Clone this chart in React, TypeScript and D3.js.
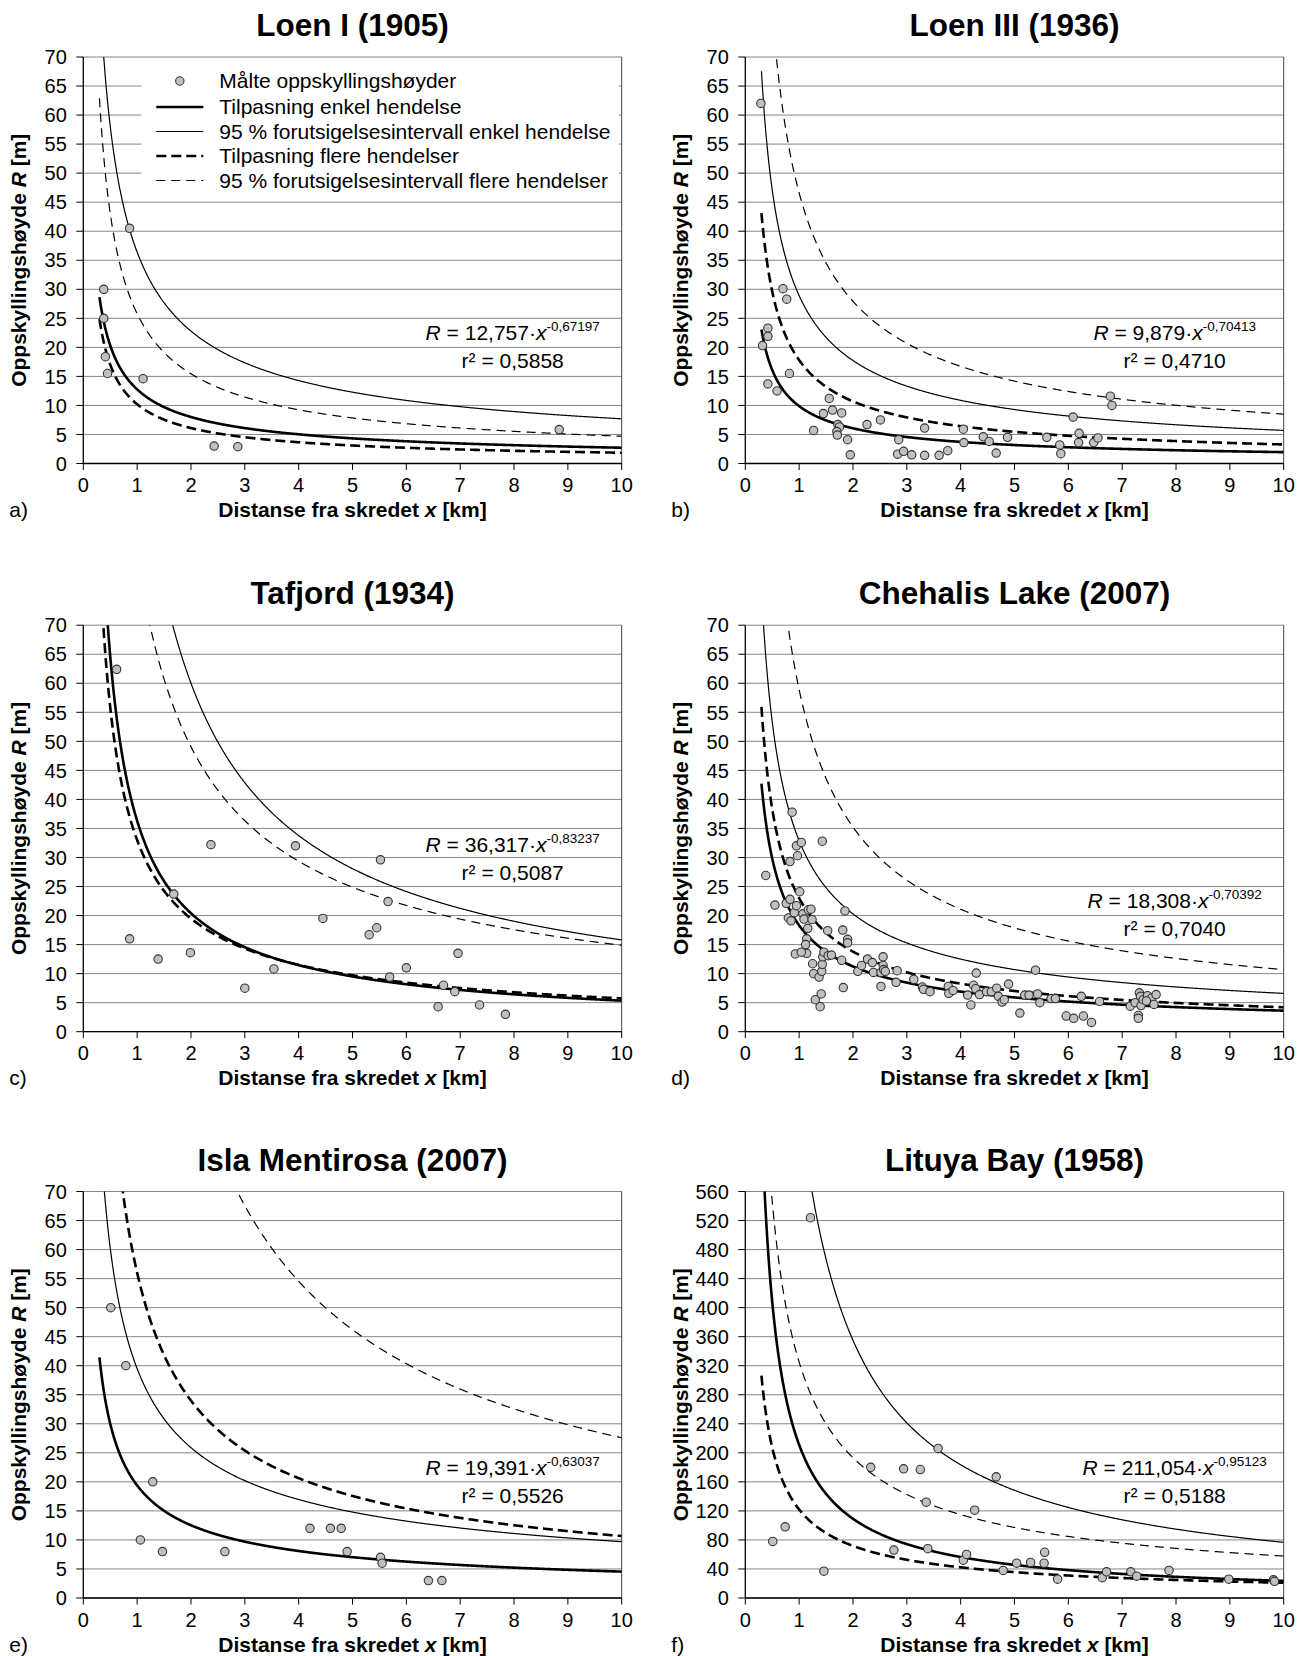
import * as React from "react";
import * as d3 from "d3";

// panel texts
const titles = ["Loen I (1905)", "Loen III (1936)", "Tafjord (1934)", "Chehalis Lake (2007)", "Isla Mentirosa (2007)", "Lituya Bay (1958)"];
const tags = ["a)", "b)", "c)", "d)", "e)", "f)"];
const yMaxes = [70, 70, 70, 70, 70, 560];
const ySteps = [5, 5, 5, 5, 5, 40];
const xTickValues = [0, 1, 2, 3, 4, 5, 6, 7, 8, 9, 10];

// fitted equation shown in each panel (R = a·x^-b)
const coefText = ["12,757", "9,879", "36,317", "18,308", "19,391", "211,054"];
const expText = ["0,67197", "0,70413", "0,83237", "0,70392", "0,63037", "0,95123"];
const r2Text = ["0,5858", "0,4710", "0,5087", "0,7040", "0,5526", "0,5188"];
const fitA = [12.757, 9.879, 36.317, 18.308, 19.391, 211.054];
const fitB = [0.67197, 0.70413, 0.83237, 0.70392, 0.63037, 0.95123];

// other curves, coefficients
const piSingleA = [36.4, 28.9, 106.6, 32.9, 39.5, 686.8];
const piSingleB = [0.675, 0.705, 0.829, 0.698, 0.61, 0.952];
const multiA = [10.2, 17.8, 33, 23.0, 56, 122];
const multiB = [0.74, 0.735, 0.76, 0.738, 0.72, 0.765];
const piMultiA = [25.8, 46.6, 82, 58.9, 152.9, 325];
const piMultiB = [0.74, 0.739, 0.741, 0.741, 0.7436, 0.75];

// measured run-up heights
const loenIX = [0.86, 0.38, 0.38, 0.41, 0.45, 1.11, 2.43, 2.87, 8.84];
const loenIR = [40.5, 30.0, 25.0, 18.4, 15.5, 14.6, 3.0, 2.9, 5.85];

const loenIIIX = [0.29, 0.70, 0.77, 0.42, 0.42, 0.32, 0.82, 0.42, 0.59, 1.56, 1.45, 1.62, 1.79, 1.27, 1.72, 1.75, 1.70, 1.71, 1.90, 1.95,
  2.26, 2.51, 2.85, 2.83, 2.94, 3.09, 3.33, 3.33, 3.60, 3.76, 4.05, 4.06, 4.42, 4.53, 4.66, 4.87, 5.60, 5.84, 5.86, 6.09,
  6.20, 6.19, 6.47, 6.55, 6.78, 6.81];
const loenIIIR = [62.0, 30.1, 28.3, 23.3, 21.9, 20.3, 15.5, 13.7, 12.5, 11.2, 8.6, 9.2, 8.7, 5.7, 6.7, 6.3, 5.5, 4.9, 4.1, 1.5,
  6.7, 7.5, 4.1, 1.6, 2.1, 1.5, 6.1, 1.4, 1.4, 2.2, 5.9, 3.6, 4.6, 3.8, 1.8, 4.5, 4.5, 3.2, 1.7, 8.0,
  5.2, 3.6, 3.6, 4.4, 11.6, 10.0];

const tafjordX = [0.62, 0.86, 1.39, 1.68, 1.99, 2.37, 3.00, 3.54, 3.94, 4.45, 5.31, 5.45, 5.52, 5.66, 5.69, 6.00, 6.59, 6.69, 6.90, 6.96, 7.36, 7.84];
const tafjordR = [62.4, 16.0, 12.5, 23.7, 13.6, 32.2, 7.5, 10.8, 32.0, 19.5, 16.7, 17.9, 29.6, 22.4, 9.4, 11.0, 4.3, 8.0, 6.9, 13.5, 4.6, 3.0];

const chehalisX = [0.38, 0.55, 0.87, 0.83, 0.76, 0.83, 0.80, 0.85, 0.91, 0.95, 0.97, 1.04, 1.01, 0.95, 1.07, 1.09, 1.17, 1.22, 1.24, 1.16,
  1.14, 1.12, 1.14, 0.93, 1.04, 1.25, 1.27, 1.37, 1.42, 1.43, 1.44, 1.46, 1.30, 1.41, 1.39, 1.43, 1.53, 1.54, 1.60, 1.79,
  1.81, 1.85, 1.90, 1.90, 1.82, 2.09, 2.16, 2.27, 2.36, 2.38, 2.52, 2.56, 2.56, 2.57, 2.60, 2.52, 2.82, 2.80, 3.13, 3.29,
  3.31, 3.43, 3.77, 3.78, 3.86, 4.13, 4.19, 4.24, 4.29, 4.28, 4.35, 4.48, 4.57, 4.67, 4.70, 4.77, 4.81, 4.89, 5.10, 5.19,
  5.27, 5.39, 5.43, 5.47, 5.68, 5.76, 5.96, 6.10, 6.24, 6.28, 6.43, 6.58, 7.15, 7.24, 7.30, 7.30, 7.32, 7.34, 7.35, 7.39,
  7.47, 7.55, 7.59, 7.63, 7.45];
const chehalisR = [26.9, 21.8, 37.8, 29.3, 22.1, 22.8, 19.6, 19.1, 20.5, 32.0, 30.3, 32.6, 24.1, 21.7, 20.3, 19.4, 21.0, 21.1, 19.3, 17.8,
  16.0, 15.0, 13.5, 13.4, 13.7, 11.7, 10.0, 9.4, 10.4, 11.6, 12.9, 13.7, 5.5, 6.5, 4.3, 32.8, 17.4, 13.1, 13.2, 12.3,
  17.5, 20.8, 15.9, 15.3, 7.6, 10.4, 11.4, 12.5, 11.9, 10.2, 10.2, 12.9, 11.4, 10.7, 10.4, 7.8, 10.5, 8.5, 9.0, 7.7,
  7.3, 6.9, 7.8, 6.6, 7.1, 6.3, 4.6, 8.0, 10.1, 7.4, 6.4, 6.9, 6.9, 7.5, 6.1, 5.1, 5.5, 8.2, 3.2, 6.3,
  6.3, 10.6, 6.5, 5.0, 5.7, 5.7, 2.7, 2.3, 6.1, 2.7, 1.6, 5.2, 4.4, 5.0, 2.8, 2.3, 6.7, 6.1, 4.5, 5.5,
  6.2, 5.8, 4.7, 6.4, 5.3];

const islaX = [0.51, 0.79, 1.06, 1.29, 1.47, 2.63, 4.21, 4.59, 4.79, 4.90, 5.52, 5.55, 6.41, 6.66];
const islaR = [50, 40, 10, 20, 8, 8, 12, 12, 12, 8, 7, 6, 3, 3];

const lituyaX = [1.21, 0.51, 0.74, 1.46, 2.33, 2.76, 2.94, 3.25, 3.36, 3.39, 3.58, 4.05, 4.11, 4.26, 4.66, 4.79, 5.04, 5.30, 5.55, 5.56,
  5.80, 6.63, 6.71, 7.16, 7.27, 7.87, 8.98, 9.81, 9.83];
const lituyaR = [524, 78, 98, 37, 180, 66, 178, 177, 132, 68, 206, 52, 60, 121, 167, 38, 48, 49, 48, 63,
  26, 28, 36, 36, 30, 38, 26, 25, 23];

const legendLabels = [
  "Målte oppskyllingshøyder",
  "Tilpasning enkel hendelse",
  "95 % forutsigelsesintervall enkel hendelse",
  "Tilpasning flere hendelser",
  "95 % forutsigelsesintervall flere hendelser",
];

const pointsX = [loenIX, loenIIIX, tafjordX, chehalisX, islaX, lituyaX];
const pointsR = [loenIR, loenIIIR, tafjordR, chehalisR, islaR, lituyaR];

const font = "'Liberation Sans', Arial, Helvetica, sans-serif";
const plotW = 538.4;
const plotH = 406.5;
const colLeft = [83.3, 745.3];
const rowTop = [57, 625.2, 1191.5];

const styles = {
  thick: 2.6,
  thin: 1.2,
  thickDash: "10,5",
  thinDash: "9,6",
};

const Panel = ({ i }) => {
  const left = colLeft[i % 2];
  const top = rowTop[Math.floor(i / 2)];
  const right = left + plotW;
  const bottom = top + plotH;

  const x = d3.scaleLinear().domain([0, 10]).range([left, right]);
  const y = d3.scaleLinear().domain([0, yMaxes[i]]).range([bottom, top]);
  const yTicks = d3.range(0, yMaxes[i] + 0.001, ySteps[i]);

  const xs = d3.range(0.3, 10.0001, 0.01);
  const line = d3.line().x(d => x(d[0])).y(d => y(d[1]));
  const curve = (a, b) => line(xs.map(v => [v, a * Math.pow(v, -b)]));

  const curves = [
    { d: curve(piMultiA[i], piMultiB[i]), w: styles.thin, dash: styles.thinDash },
    { d: curve(multiA[i], multiB[i]), w: styles.thick, dash: styles.thickDash },
    { d: curve(piSingleA[i], piSingleB[i]), w: styles.thin, dash: null },
    { d: curve(fitA[i], fitB[i]), w: styles.thick, dash: null },
  ];

  const clipId = "clip" + i;
  const eqX = right - 109;
  const eqY = i === 2 ? top + 227 : top + 283;

  return (
    <g>
      <defs>
        <clipPath id={clipId}>
          <rect x={left} y={top} width={plotW} height={plotH} />
        </clipPath>
      </defs>

      {yTicks.map(t => (
        <line key={"g" + t} x1={left} x2={right} y1={y(t)} y2={y(t)} stroke="#858585" strokeWidth={1} />
      ))}
      <line x1={right} x2={right} y1={top} y2={bottom} stroke="#444" strokeWidth={1} />

      {i === 0 && (
        <rect x={left + 58} y={top + 8} width={plotW - 61} height={130} fill="#fff" />
      )}

      <g clipPath={`url(#${clipId})`}>
        {curves.map((c, k) => (
          <path key={"c" + k} d={c.d} fill="none" stroke="#000" strokeWidth={c.w}
            strokeDasharray={c.dash || undefined} />
        ))}
      </g>

      {pointsX[i].map((v, k) => (
        <circle key={"p" + k} cx={x(v)} cy={y(pointsR[i][k])} r={4.2} fill="#c0c0c0" stroke="#333" strokeWidth={1.1} />
      ))}

      {/* axes */}
      <line x1={left} x2={left} y1={top} y2={bottom} stroke="#000" strokeWidth={1.3} />
      <line x1={left} x2={right} y1={bottom} y2={bottom} stroke="#000" strokeWidth={1.3} />
      {yTicks.map(t => (
        <g key={"yt" + t}>
          <line x1={left - 7} x2={left} y1={y(t)} y2={y(t)} stroke="#000" strokeWidth={1} />
          <text x={left - 16.5} y={y(t) + 7.2} textAnchor="end" fontSize={20} fontFamily={font}>{t}</text>
        </g>
      ))}
      {xTickValues.map(t => (
        <g key={"xt" + t}>
          <line x1={x(t)} x2={x(t)} y1={bottom} y2={bottom + 6.5} stroke="#000" strokeWidth={1} />
          <text x={x(t)} y={bottom + 28.5} textAnchor="middle" fontSize={20} fontFamily={font}>{t}</text>
        </g>
      ))}

      <text x={(left + right) / 2} y={top - 21} textAnchor="middle" fontSize={31.5} fontWeight="bold" fontFamily={font}>
        {titles[i]}
      </text>
      <text x={(left + right) / 2} y={bottom + 53.5} textAnchor="middle" fontSize={21} fontWeight="bold" fontFamily={font}>
        Distanse fra skredet <tspan fontStyle="italic">x</tspan> [km]
      </text>
      <text transform={`translate(${left - 57.8},${(top + bottom) / 2}) rotate(-90)`} textAnchor="middle"
        fontSize={21} fontWeight="bold" fontFamily={font}>
        Oppskyllingshøyde <tspan fontStyle="italic">R</tspan> [m]
      </text>
      <text x={left - 74} y={bottom + 53.5} fontSize={21} fontFamily={font}>{tags[i]}</text>

      <text x={eqX} y={eqY} textAnchor="middle" fontSize={21} fontFamily={font}>
        <tspan fontStyle="italic">R</tspan> = {coefText[i]}·<tspan fontStyle="italic">x</tspan>
        <tspan dy={-9} fontSize={13.5}>-{expText[i]}</tspan>
      </text>
      <text x={eqX} y={eqY + 28} textAnchor="middle" fontSize={21} fontFamily={font}>
        r² = {r2Text[i]}
      </text>

      {i === 0 && <Legend left={left} top={top} />}
    </g>
  );
};

const Legend = ({ left, top }) => {
  const x0 = left + 73;
  const x1 = left + 120;
  const tx = left + 136;
  const rows = [24, 50, 74.5, 99, 123.5].map(v => top + v);
  const lineStyles = [
    null,
    { w: styles.thick, dash: null },
    { w: styles.thin, dash: null },
    { w: styles.thick, dash: styles.thickDash },
    { w: styles.thin, dash: styles.thinDash },
  ];
  return (
    <g>
      {legendLabels.map((lab, k) => (
        <g key={lab}>
          {k === 0 ? (
            <circle cx={(x0 + x1) / 2} cy={rows[k]} r={4.2} fill="#c0c0c0" stroke="#333" strokeWidth={1.1} />
          ) : (
            <line x1={x0} x2={x1} y1={rows[k]} y2={rows[k]} stroke="#000" strokeWidth={lineStyles[k].w}
              strokeDasharray={lineStyles[k].dash || undefined} />
          )}
          <text x={tx} y={rows[k] + 7.3} fontSize={21} fontFamily={font}>{lab}</text>
        </g>
      ))}
    </g>
  );
};

export default function App() {
  return (
    <svg width={1307} height={1656} style={{ position: "absolute", left: 0, top: 0, background: "#fff" }}>
      <rect width={1307} height={1656} fill="#fff" />
      {titles.map((t, i) => <Panel key={t} i={i} />)}
    </svg>
  );
}
